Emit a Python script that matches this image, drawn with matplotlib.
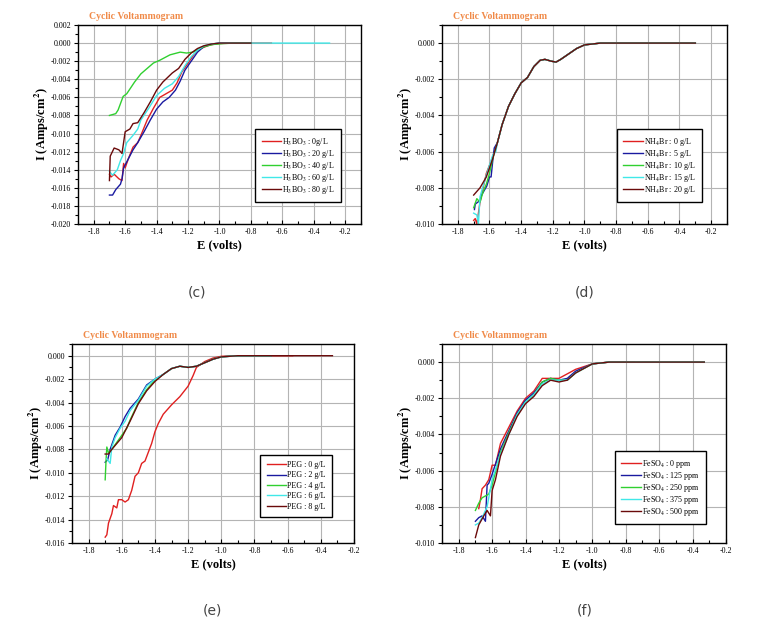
import numpy as np
import matplotlib
matplotlib.use('Agg')
from matplotlib import pyplot as plt
from matplotlib.ticker import MultipleLocator, FuncFormatter

plt.rcParams['font.family'] = 'serif'
plt.rcParams['font.serif'] = ['Liberation Serif', 'DejaVu Serif']
plt.rcParams['mathtext.fontset'] = 'stix'

# (c) H3BO3
c_labels = [r'H$_3$BO$_3$ : 0g/L', r'H$_3$BO$_3$ : 20 g/L', r'H$_3$BO$_3$ : 40 g/L',
            r'H$_3$BO$_3$ : 60 g/L', r'H$_3$BO$_3$ : 80 g/L']
c0_e = [-1.70, -1.69, -1.67, -1.64, -1.62, -1.61, -1.60, -1.58, -1.55, -1.52, -1.50, -1.46, -1.42,
        -1.38, -1.35, -1.30, -1.27, -1.24, -1.20, -1.16, -1.12, -1.06, -1.00, -0.90, -0.67]
c0_i = [-0.0145, -0.0148, -0.0145, -0.0150, -0.0152, -0.0133, -0.0138, -0.0128, -0.0115, -0.0110,
        -0.0102, -0.0085, -0.0072, -0.0060, -0.0057, -0.0052, -0.0044, -0.0032, -0.0022, -0.0012,
        -0.0006, -0.0002, -0.00005, 0.0, 0.0]
c1_e = [-1.70, -1.68, -1.66, -1.63, -1.62, -1.61, -1.58, -1.55, -1.52, -1.48, -1.44, -1.40, -1.36,
        -1.32, -1.28, -1.25, -1.22, -1.18, -1.14, -1.10, -1.05, -1.00, -0.90, -0.80]
c1_i = [-0.0168, -0.0168, -0.0162, -0.0156, -0.0150, -0.0138, -0.0128, -0.0118, -0.0110, -0.0098,
        -0.0085, -0.0073, -0.0065, -0.0060, -0.0052, -0.0042, -0.0030, -0.0020, -0.0010, -0.0004,
        -0.0001, 0.0, 0.0, 0.0]
c2_e = [-1.70, -1.66, -1.645, -1.613, -1.59, -1.54, -1.50, -1.42, -1.38, -1.315, -1.25, -1.21,
        -1.17, -1.10, -1.04, -0.975, -0.90, -0.80]
c2_i = [-0.0080, -0.0078, -0.0074, -0.0059, -0.0056, -0.0043, -0.0034, -0.0022, -0.0019, -0.0013,
        -0.0010, -0.0011, -0.0010, -0.0004, -0.00015, -0.00005, 0.0, 0.0]
c3_e = [-1.70, -1.68, -1.65, -1.63, -1.61, -1.59, -1.55, -1.52, -1.50, -1.45, -1.40, -1.35, -1.30,
        -1.26, -1.22, -1.18, -1.14, -1.10, -1.05, -1.00, -0.90, -0.60, -0.30]
c3_i = [-0.0142, -0.0146, -0.0140, -0.0130, -0.0122, -0.0110, -0.0102, -0.0095, -0.0085, -0.0072,
        -0.0058, -0.0050, -0.0045, -0.0037, -0.0025, -0.0015, -0.0008, -0.0003, -0.0001, 0.0,
        0.0, 0.0, 0.0]
c4_e = [-1.70, -1.695, -1.67, -1.64, -1.62, -1.60, -1.57, -1.55, -1.52, -1.48, -1.44, -1.40, -1.36,
        -1.30, -1.26, -1.22, -1.18, -1.14, -1.10, -1.05, -1.00, -0.90, -0.80]
c4_i = [-0.0152, -0.0125, -0.0116, -0.0118, -0.0122, -0.0098, -0.0095, -0.0089, -0.0088, -0.0077,
        -0.0065, -0.0052, -0.0043, -0.0033, -0.0028, -0.0018, -0.0011, -0.0006, -0.0003, -0.0001,
        0.0, 0.0, 0.0]

# (d) NH4Br  -- shared upper part of the curve
d_common_e = [-1.55, -1.52, -1.48, -1.44, -1.40, -1.36, -1.32, -1.28, -1.25, -1.21, -1.18, -1.15,
              -1.10, -1.05, -1.00, -0.90, -0.60, -0.30]
d_common_i = [-0.0055, -0.0045, -0.0035, -0.0028, -0.0022, -0.0019, -0.0013, -0.00095, -0.0009,
              -0.0010, -0.00105, -0.0009, -0.0006, -0.0003, -0.0001, 0.0, 0.0, 0.0]
d_labels = ['NH$_4$Br : 0 g/L', 'NH$_4$Br : 5 g/L', 'NH$_4$Br : 10 g/L',
            'NH$_4$Br : 15 g/L', 'NH$_4$Br : 20 g/L']
d0_e = [-1.70, -1.69, -1.68, -1.66, -1.62, -1.58]
d0_i = [-0.0098, -0.0097, -0.0100, -0.0088, -0.0072, -0.0063]
d1_e = [-1.695, -1.69, -1.66, -1.65, -1.617, -1.60, -1.59, -1.577, -1.57]
d1_i = [-0.0092, -0.0089, -0.0087, -0.0084, -0.0079, -0.0074, -0.0074, -0.0063, -0.0058]
d2_e = [-1.70, -1.68, -1.66, -1.64, -1.62, -1.60, -1.58]
d2_i = [-0.0091, -0.0086, -0.0088, -0.0082, -0.0078, -0.0072, -0.0064]
d3_e = [-1.70, -1.68, -1.67, -1.66, -1.62, -1.58, -1.56]
d3_i = [-0.0094, -0.0095, -0.0100, -0.0085, -0.0073, -0.0062, -0.0060]
d4_e = [-1.70, -1.66, -1.62, -1.58]
d4_i = [-0.0084, -0.0080, -0.0074, -0.0064]

# (e) PEG
e_labels = ['PEG : 0 g/L', 'PEG : 2 g/L', 'PEG : 4 g/L', 'PEG : 6 g/L', 'PEG : 8 g/L']
e0_e = [-1.70, -1.69, -1.68, -1.66, -1.65, -1.63, -1.62, -1.60, -1.58, -1.56, -1.54, -1.52, -1.50,
        -1.48, -1.46, -1.42, -1.40, -1.38, -1.35, -1.30, -1.25, -1.20, -1.17, -1.15, -1.10, -1.05,
        -1.00, -0.90, -0.57]
e0_i = [-0.0155, -0.0153, -0.0143, -0.0135, -0.0128, -0.0130, -0.0123, -0.0123, -0.0125, -0.0123,
        -0.0115, -0.0103, -0.0100, -0.0092, -0.0090, -0.0075, -0.0065, -0.0058, -0.0050, -0.0042,
        -0.0035, -0.0026, -0.0017, -0.0010, -0.0005, -0.0002, -0.00005, 0.0, 0.0]
e_common_e = [-1.35, -1.30, -1.25, -1.20, -1.15, -1.10, -1.05, -1.00, -0.90, -0.70]
e_common_i = [-0.0016, -0.0011, -0.0009, -0.0010, -0.0009, -0.0006, -0.0003, -0.0001, 0.0, 0.0]
e1_e = [-1.70, -1.685, -1.67, -1.64, -1.61, -1.58, -1.55, -1.50, -1.45, -1.40]
e1_i = [-0.0091, -0.0089, -0.0080, -0.0068, -0.0061, -0.0052, -0.0045, -0.0037, -0.0025, -0.0020]
e2_e = [-1.70, -1.695, -1.69, -1.68, -1.66, -1.62, -1.60, -1.57, -1.55, -1.50, -1.45, -1.40]
e2_i = [-0.0106, -0.0090, -0.0078, -0.0083, -0.0080, -0.0072, -0.0068, -0.0062, -0.0055, -0.0040,
        -0.0029, -0.0021]
e3_e = [-1.69, -1.67, -1.66, -1.64, -1.61, -1.58, -1.55, -1.50, -1.45, -1.40]
e3_i = [-0.0088, -0.0092, -0.0078, -0.0070, -0.0062, -0.0056, -0.0047, -0.0038, -0.0026, -0.0020]
e4_e = [-1.70, -1.68, -1.66, -1.60, -1.55, -1.50, -1.45, -1.40]
e4_i = [-0.0084, -0.0084, -0.0080, -0.0070, -0.0056, -0.0041, -0.0030, -0.0022]
e4_tail_e = [-0.33]
e4_tail_i = [0.0]

# (f) FeSO4
f_labels = ['FeSO$_4$ : 0 ppm', 'FeSO$_4$ : 125 ppm', 'FeSO$_4$ : 250 ppm',
            'FeSO$_4$ : 375 ppm', 'FeSO$_4$ : 500 ppm']
f0_e = [-1.68, -1.67, -1.66, -1.64, -1.62, -1.60, -1.58, -1.55, -1.50, -1.45, -1.40, -1.35, -1.30,
        -1.25, -1.20, -1.10, -1.00, -0.90, -0.75]
f0_i = [-0.0081, -0.0076, -0.0070, -0.0068, -0.0065, -0.0057, -0.0057, -0.0045, -0.0036, -0.0027,
        -0.0020, -0.0016, -0.0009, -0.0009, -0.0009, -0.0004, -0.0001, 0.0, 0.0]
f1_e = [-1.70, -1.68, -1.66, -1.64, -1.63, -1.62, -1.60, -1.55, -1.50, -1.45, -1.40, -1.35, -1.30,
        -1.25, -1.20, -1.15, -1.10, -1.00, -0.90, -0.60, -0.33]
f1_i = [-0.0088, -0.0086, -0.0085, -0.0088, -0.0068, -0.0067, -0.0062, -0.0048, -0.0038, -0.0028,
        -0.0021, -0.0017, -0.0011, -0.0009, -0.0010, -0.0009, -0.0005, -0.0001, 0.0, 0.0, 0.0]
f2_e = [-1.70, -1.68, -1.66, -1.62, -1.60, -1.55, -1.50, -1.45, -1.40, -1.35, -1.30, -1.25, -1.20,
        -1.15, -1.10, -1.00, -0.90, -0.60, -0.33]
f2_i = [-0.0082, -0.0078, -0.0075, -0.0073, -0.0068, -0.0050, -0.0039, -0.0029, -0.0022, -0.0018,
        -0.0011, -0.0009, -0.0010, -0.0010, -0.0006, -0.0001, 0.0, 0.0, 0.0]
f3_e = [-1.70, -1.68, -1.66, -1.63, -1.60, -1.55, -1.50, -1.45, -1.40, -1.35, -1.30, -1.25, -1.20,
        -1.15, -1.10, -1.00, -0.90, -0.60, -0.33]
f3_i = [-0.0090, -0.0089, -0.0086, -0.0080, -0.0065, -0.0051, -0.0040, -0.0029, -0.0022, -0.0018,
        -0.0012, -0.0010, -0.0010, -0.0010, -0.0006, -0.0001, 0.0, 0.0, 0.0]
f4_e = [-1.70, -1.68, -1.65, -1.63, -1.61, -1.60, -1.58, -1.55, -1.50, -1.45, -1.40, -1.35, -1.30,
        -1.25, -1.20, -1.15, -1.10, -1.00, -0.90, -0.60, -0.33]
f4_i = [-0.0097, -0.0090, -0.0085, -0.0082, -0.0085, -0.0071, -0.0065, -0.0052, -0.0040, -0.0030,
        -0.0023, -0.0019, -0.0013, -0.0010, -0.0011, -0.0010, -0.0006, -0.0001, 0.0, 0.0, 0.0]

colors = ['#e02020', '#1a1aa0', '#30d030', '#40e8e8', '#6a0a0a']

W, H = 767, 621
fig = plt.figure(figsize=(W / 100, H / 100), dpi=100)


def make_axes(left, right, top, bottom):
    return fig.add_axes([left / W, 1 - bottom / H, (right - left) / W, (bottom - top) / H])


def yfmt(v, pos):
    s = '%.3f' % v
    if s == '-0.000':
        s = '0.000'
    return s


def style(ax, xlim, ylim, yticks, leg_anchor, spacing=0.0):
    ax.set_xlim(*xlim)
    ax.set_ylim(*ylim)
    ax.set_xticks(np.arange(-1.8, -0.19, 0.2))
    ax.set_xticklabels(['%.1f' % v for v in np.arange(-1.8, -0.19, 0.2)])
    ax.xaxis.set_minor_locator(MultipleLocator(0.1))
    ax.set_yticks(yticks)
    ax.yaxis.set_major_formatter(FuncFormatter(yfmt))
    ax.yaxis.set_minor_locator(MultipleLocator(0.001))
    ax.grid(True, color='#b4b4b4', linewidth=0.8)
    ax.set_axisbelow(True)
    ax.tick_params(axis='x', which='both', direction='in', labelsize=5.8, pad=3)
    ax.tick_params(axis='y', which='both', direction='out', labelsize=5.8, pad=2)
    ax.tick_params(which='major', length=3, width=0.8)
    ax.tick_params(which='minor', length=2, width=0.8)
    for s in ax.spines.values():
        s.set_linewidth(1.0)
    ax.set_xlabel('E (volts)', fontsize=9, fontweight='bold', labelpad=2)
    ax.set_ylabel(r'I (Amps/cm$^\mathbf{2}$)', fontsize=9, fontweight='bold', labelpad=0)
    ax.text(0.04, 1.02, 'Cyclic Voltammogram', transform=ax.transAxes, color='#f08a48',
            fontsize=7, fontweight='bold', va='bottom', ha='left')
    leg = ax.legend(loc='lower right', bbox_to_anchor=leg_anchor, fontsize=5.8, frameon=True,
                    fancybox=False, edgecolor='black', framealpha=1, handlelength=2.4,
                    handletextpad=0.15, labelspacing=spacing, borderpad=0.8, borderaxespad=0)
    leg.get_frame().set_linewidth(1.0)


# (c)
ax = make_axes(78, 361, 25, 224)
for (xe, yi), col, lab in zip([(c0_e, c0_i), (c1_e, c1_i), (c2_e, c2_i), (c3_e, c3_i), (c4_e, c4_i)],
                              colors, c_labels):
    ax.plot(xe, yi, color=col, lw=1.0, label=lab)
style(ax, (-1.9, -0.1), (-0.020, 0.002), np.arange(-0.020, 0.0021, 0.002), (0.93, 0.11))

# (d)
ax = make_axes(442, 727, 25, 224)
for (xe, yi), col, lab in zip([(d0_e, d0_i), (d1_e, d1_i), (d2_e, d2_i), (d3_e, d3_i), (d4_e, d4_i)],
                              colors, d_labels):
    ax.plot(xe + d_common_e, yi + d_common_i, color=col, lw=1.0, label=lab)
style(ax, (-1.9, -0.1), (-0.010, 0.001), np.arange(-0.010, 0.0001, 0.002), (0.912, 0.11))

# (e)
ax = make_axes(72, 354, 344, 543)
ax.plot(e0_e, e0_i, color=colors[0], lw=1.0, label=e_labels[0])
for (xe, yi), col, lab in zip([(e1_e, e1_i), (e2_e, e2_i), (e3_e, e3_i), (e4_e, e4_i)],
                              colors[1:], e_labels[1:]):
    tail_e = e4_tail_e if lab == e_labels[4] else []
    tail_i = e4_tail_i if lab == e_labels[4] else []
    ax.plot(xe + e_common_e + tail_e, yi + e_common_i + tail_i, color=col, lw=1.0, label=lab)
style(ax, (-1.9, -0.2), (-0.016, 0.001), np.arange(-0.016, 0.0001, 0.002), (0.922, 0.13), 0.3)

# (f)
ax = make_axes(442, 726, 344, 543)
for (xe, yi), col, lab in zip([(f0_e, f0_i), (f1_e, f1_i), (f2_e, f2_i), (f3_e, f3_i), (f4_e, f4_i)],
                              colors, f_labels):
    ax.plot(xe, yi, color=col, lw=1.0, label=lab)
style(ax, (-1.9, -0.2), (-0.010, 0.001), np.arange(-0.010, 0.0001, 0.002), (0.93, 0.095))

# panel letters
for txt, px, py in [('(c)', 197, 293), ('(d)', 585, 293), ('(e)', 212, 610), ('(f)', 585, 610)]:
    fig.text(px / W, 1 - py / H, txt, fontsize=10, family='DejaVu Sans', color='#444444',
             ha='center', va='center')

fig.savefig('out.png', dpi=100)
